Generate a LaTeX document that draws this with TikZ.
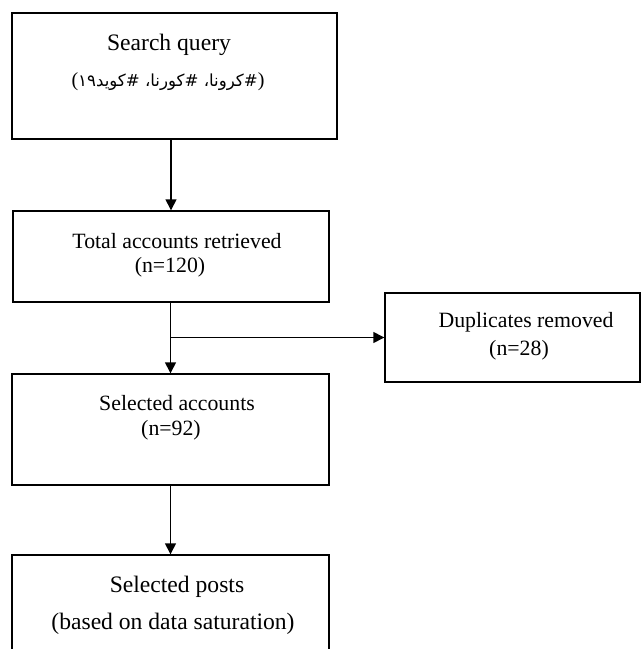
\documentclass[tikz,border=0pt]{standalone}
\usepackage{fontspec}
\setmainfont{Liberation Serif}
\newfontfamily\arabicfont[Script=Arabic]{DejaVu Sans}
\TeXXeTstate=1
\usetikzlibrary{arrows.meta}
\newcommand\lpar{\hbox{\rmfamily\fontsize{10}{12}\selectfont(}}
\newcommand\rpar{\hbox{\rmfamily\fontsize{10}{12}\selectfont)}}
\begin{document}
\begin{tikzpicture}[x=0.5pt,y=-0.5pt,>={Triangle[length=5.5pt,width=5.5pt]},
    box/.style={draw,line width=0.7pt,inner sep=0pt},
    txt/.style={inner sep=0pt,font=\fontsize{10.9}{13}\selectfont},
    bigtxt/.style={inner sep=0pt,font=\fontsize{11.8}{14}\selectfont}]
    \useasboundingbox (0,0) rectangle (641,649);
    \clip (0,0) rectangle (641,649);
    % search query
    \node[box,minimum width=162.5pt,minimum height=63pt] (search) at (174.5,76) {};
    \node[bigtxt] (searchA) at (169,45) {Search query};
    \node[txt,font=\fontsize{8.3}{10}\arabicfont] (searchB) at (168,82)
      {\lpar\hbox{۱}\hbox{۹}\hbox{\beginR کوید\endR}\hbox{\#}\ \hbox{،}\hbox{\beginR کورنا\endR}\hbox{\#}\ \hbox{،}\hbox{\beginR کرونا\endR}\hbox{\#}\rpar};
    % total accounts
    \node[box,minimum width=158pt,minimum height=45.5pt] (total) at (171,256.5) {};
    \node[txt] (totalA) at (177,241) {Total accounts retrieved};
    \node[txt] (totalB) at (170,267) {(n=120)};
    % duplicates
    \node[box,minimum width=127.5pt,minimum height=44.5pt] (dupl) at (512.5,337.5) {};
    \node[txt] (duplA) at (526,322) {Duplicates removed};
    \node[txt] (duplB) at (519,350) {(n=28)};
    % selected accounts
    \node[box,minimum width=158.5pt,minimum height=55.5pt] (selacc) at (170.5,429.5) {};
    \node[txt] (selaccA) at (177,403) {Selected accounts};
    \node[txt] (selaccB) at (171,430) {(n=92)};
    % selected posts
    \node[box,minimum width=158.5pt,minimum height=75pt] (posts) at (170.5,630) {};
    \node[bigtxt] (postsA) at (177,587) {Selected posts};
    \node[bigtxt] (postsB) at (173,624) {(based on data saturation)};
    % arrows
    \draw[->,line width=0.7pt] (search.south -| total.north) -- (total.north);
    \draw[->,line width=0.7pt] (total.south -| selacc.north) -- (selacc.north);
    \draw[->,line width=0.7pt] (dupl.west -| selacc.north) -- (dupl.west);
    \draw[->,line width=0.7pt] (selacc.south) -- (posts.north);
\end{tikzpicture}
\end{document}
